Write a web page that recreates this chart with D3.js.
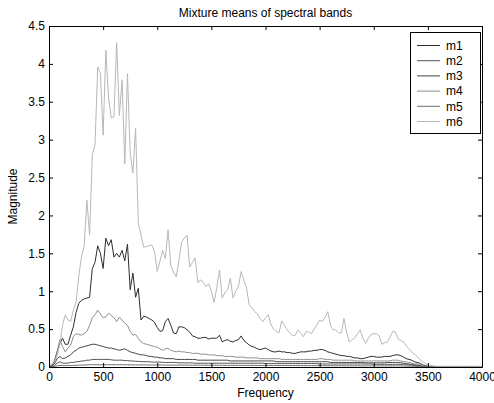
<!DOCTYPE html>
<html><head><meta charset="utf-8">
<script src="https://cdn.jsdelivr.net/npm/d3@7"></script>
<style>body{margin:0;background:#fff} text{font-family:"Liberation Sans",Arial,sans-serif}</style>
</head><body><svg id="c" width="494" height="403"></svg>
<script>
// Frequency grid (Hz), 25 Hz steps from 0 to 4000
const frequency = d3.range(0, 4001, 25);

const m1 = [
0.02,0.02,0.08,0.20,0.31,0.38,0.30,0.30,0.42,0.53,0.72,0.84,0.88,0.90,0.91,0.92,1.30,1.38,1.60,1.50,
1.30,1.70,1.60,1.68,1.45,1.50,1.45,1.54,1.40,1.62,1.02,1.24,0.92,1.04,0.62,0.67,0.66,0.64,0.62,0.59,
0.52,0.47,0.48,0.60,0.64,0.55,0.45,0.44,0.53,0.53,0.52,0.49,0.46,0.41,0.40,0.38,0.38,0.39,0.39,0.37,
0.38,0.38,0.38,0.42,0.33,0.35,0.36,0.34,0.33,0.35,0.36,0.41,0.35,0.32,0.29,0.27,0.26,0.24,0.23,0.24,
0.25,0.23,0.21,0.20,0.20,0.21,0.20,0.20,0.19,0.19,0.18,0.18,0.19,0.20,0.20,0.20,0.21,0.21,0.22,0.22,
0.23,0.23,0.22,0.20,0.19,0.18,0.17,0.16,0.15,0.15,0.14,0.14,0.13,0.12,0.12,0.11,0.11,0.12,0.13,0.14,
0.14,0.13,0.13,0.13,0.14,0.14,0.14,0.15,0.16,0.16,0.15,0.13,0.11,0.10,0.09,0.07,0.06,0.05,0.03,0.02,
0.01,0.005,0.005,0.005,0.005,0.005,0.005,0.005,0.005,0.005,0.005,0.005,0.005,0.005,0.005,0.005,0.005,0.005,0.005,0.005,
0.005];

const m2 = [
0.005,0.005,0.02,0.05,0.07,0.05,0.05,0.05,0.06,0.06,0.07,0.07,0.08,0.08,0.09,0.09,0.10,0.10,0.10,0.10,
0.10,0.10,0.10,0.095,0.09,0.09,0.09,0.09,0.085,0.085,0.08,0.08,0.075,0.075,0.07,0.07,0.07,0.07,0.065,0.065,
0.065,0.065,0.06,0.06,0.06,0.06,0.06,0.06,0.055,0.055,0.055,0.055,0.055,0.055,0.05,0.05,0.05,0.05,0.05,0.05,
0.05,0.05,0.05,0.05,0.05,0.05,0.05,0.05,0.05,0.05,0.05,0.05,0.05,0.05,0.05,0.05,0.05,0.05,0.05,0.05,
0.045,0.045,0.045,0.045,0.045,0.045,0.045,0.045,0.045,0.045,0.045,0.045,0.045,0.045,0.045,0.045,0.045,0.045,0.045,0.045,
0.04,0.04,0.04,0.04,0.04,0.04,0.04,0.04,0.04,0.04,0.04,0.04,0.04,0.04,0.04,0.04,0.04,0.04,0.04,0.04,
0.035,0.035,0.035,0.035,0.035,0.035,0.035,0.035,0.035,0.035,0.035,0.03,0.03,0.025,0.025,0.02,0.015,0.01,0.008,0.005,
0.003,0.003,0.003,0.003,0.003,0.003,0.003,0.003,0.003,0.003,0.003,0.003,0.003,0.003,0.003,0.003,0.003,0.003,0.003,0.003,
0.003];

const m3 = [
0.01,0.01,0.04,0.11,0.14,0.11,0.12,0.14,0.16,0.20,0.22,0.25,0.26,0.27,0.28,0.29,0.30,0.30,0.29,0.28,
0.27,0.26,0.25,0.25,0.24,0.23,0.22,0.23,0.24,0.22,0.20,0.19,0.18,0.17,0.16,0.16,0.15,0.14,0.14,0.13,
0.13,0.12,0.12,0.11,0.11,0.11,0.11,0.10,0.10,0.10,0.10,0.10,0.10,0.10,0.10,0.09,0.09,0.09,0.09,0.09,
0.09,0.09,0.09,0.09,0.09,0.09,0.09,0.08,0.08,0.08,0.08,0.08,0.08,0.08,0.08,0.08,0.08,0.08,0.08,0.08,
0.08,0.08,0.08,0.08,0.07,0.07,0.07,0.07,0.07,0.07,0.07,0.07,0.07,0.07,0.07,0.07,0.07,0.07,0.07,0.07,
0.07,0.07,0.07,0.07,0.06,0.06,0.06,0.06,0.06,0.06,0.06,0.06,0.06,0.06,0.06,0.06,0.06,0.055,0.055,0.055,
0.055,0.055,0.055,0.055,0.055,0.06,0.06,0.06,0.06,0.06,0.055,0.05,0.045,0.04,0.035,0.03,0.025,0.02,0.015,0.01,
0.005,0.005,0.005,0.005,0.005,0.005,0.005,0.005,0.005,0.005,0.005,0.005,0.005,0.005,0.005,0.005,0.005,0.005,0.005,0.005,
0.005];

const m4 = [
0.02,0.02,0.06,0.20,0.36,0.27,0.20,0.25,0.29,0.40,0.44,0.43,0.42,0.44,0.47,0.55,0.65,0.69,0.75,0.70,
0.65,0.66,0.71,0.68,0.65,0.60,0.66,0.62,0.58,0.55,0.47,0.42,0.43,0.38,0.33,0.31,0.30,0.29,0.28,0.27,
0.26,0.24,0.22,0.24,0.25,0.22,0.21,0.20,0.21,0.20,0.20,0.19,0.19,0.18,0.18,0.18,0.17,0.17,0.17,0.16,
0.16,0.16,0.15,0.15,0.15,0.14,0.14,0.14,0.14,0.13,0.13,0.13,0.13,0.12,0.12,0.12,0.12,0.12,0.11,0.11,
0.11,0.11,0.11,0.11,0.11,0.11,0.10,0.10,0.10,0.10,0.10,0.10,0.10,0.10,0.10,0.10,0.10,0.10,0.10,0.10,
0.11,0.11,0.10,0.10,0.10,0.09,0.09,0.09,0.09,0.09,0.09,0.09,0.09,0.08,0.08,0.08,0.08,0.08,0.08,0.08,
0.08,0.08,0.08,0.08,0.08,0.08,0.08,0.09,0.09,0.09,0.08,0.07,0.07,0.06,0.05,0.04,0.04,0.03,0.02,0.01,
0.005,0.005,0.005,0.005,0.005,0.005,0.005,0.005,0.005,0.005,0.005,0.005,0.005,0.005,0.005,0.005,0.005,0.005,0.005,0.005,
0.005];

const m5 = [
0.003,0.003,0.008,0.015,0.02,0.018,0.018,0.018,0.02,0.02,0.022,0.024,0.025,0.026,0.028,0.03,0.03,0.03,0.03,0.03,
0.03,0.03,0.03,0.03,0.03,0.03,0.03,0.03,0.029,0.029,0.029,0.028,0.028,0.028,0.028,0.027,0.027,0.027,0.027,0.027,
0.026,0.026,0.026,0.026,0.026,0.025,0.025,0.025,0.025,0.025,0.025,0.025,0.024,0.024,0.024,0.024,0.024,0.024,0.023,0.023,
0.023,0.023,0.023,0.023,0.022,0.022,0.022,0.022,0.022,0.022,0.022,0.021,0.021,0.021,0.021,0.021,0.021,0.02,0.02,0.02,
0.02,0.02,0.02,0.02,0.02,0.02,0.02,0.02,0.019,0.019,0.019,0.019,0.019,0.019,0.018,0.018,0.018,0.018,0.018,0.018,
0.018,0.018,0.017,0.017,0.017,0.017,0.017,0.017,0.016,0.016,0.016,0.016,0.016,0.016,0.016,0.015,0.015,0.015,0.015,0.015,
0.015,0.015,0.015,0.015,0.015,0.015,0.015,0.015,0.015,0.015,0.014,0.013,0.012,0.011,0.01,0.009,0.008,0.006,0.004,0.003,
0.002,0.002,0.002,0.002,0.002,0.002,0.002,0.002,0.002,0.002,0.002,0.002,0.002,0.002,0.002,0.002,0.002,0.002,0.002,0.002,
0.002];

const m6 = [
0.04,0.04,0.06,0.15,0.30,0.55,0.69,0.62,0.60,0.75,0.86,1.20,1.45,1.60,2.20,1.74,2.80,2.93,3.96,3.87,
3.06,4.18,3.55,3.29,3.30,4.28,3.32,3.79,2.68,3.87,2.82,2.56,3.15,1.90,1.74,1.58,1.59,1.60,1.61,1.52,
1.26,1.40,1.54,1.43,1.81,1.34,1.25,1.19,1.40,1.65,1.70,1.74,1.32,1.38,1.44,1.11,1.15,1.12,1.06,1.10,
1.00,0.85,1.05,1.28,0.91,0.98,1.02,1.17,0.91,1.00,1.06,1.26,1.15,1.04,0.82,0.78,0.73,0.70,0.64,0.60,
0.65,0.69,0.56,0.50,0.47,0.45,0.61,0.55,0.49,0.45,0.41,0.42,0.49,0.45,0.40,0.47,0.46,0.44,0.50,0.56,
0.62,0.60,0.65,0.73,0.55,0.49,0.49,0.45,0.45,0.64,0.45,0.33,0.36,0.38,0.44,0.49,0.38,0.31,0.38,0.43,
0.44,0.44,0.41,0.30,0.32,0.33,0.39,0.47,0.46,0.37,0.35,0.33,0.28,0.24,0.20,0.17,0.14,0.10,0.07,0.05,
0.03,0.02,0.015,0.01,0.01,0.01,0.01,0.01,0.01,0.01,0.01,0.01,0.01,0.01,0.01,0.01,0.01,0.01,0.01,0.01,
0.01];

const seriesNames = ["m1","m2","m3","m4","m5","m6"];
const seriesValues = [m1,m2,m3,m4,m5,m6];
const seriesColors = ["#2e2e2e","#555555","#454545","#8f8f8f","#6e6e6e","#b8b8b8"];

const xTicks = [0,500,1000,1500,2000,2500,3000,3500,4000];
const yTicks = [0,0.5,1,1.5,2,2.5,3,3.5,4,4.5];
const yTickLabels = ["0","0.5","1","1.5","2","2.5","3","3.5","4","4.5"];

const titleText = "Mixture means of spectral bands";
const xLabel = "Frequency";
const yLabel = "Magnitude";

const L = 49, R = 482, T = 26, B = 367;
const svg = d3.select("#c");
svg.append("rect").attr("width",494).attr("height",403).attr("fill","#fff");

const x = d3.scaleLinear().domain([0,4000]).range([L,R]);
const y = d3.scaleLinear().domain([0,4.5]).range([B,T]);

const line = d3.line().x((d,i)=>x(frequency[i])).y(d=>y(d));

const plot = svg.append("g");
seriesValues.forEach((vals,k)=>{
  plot.append("path").datum(vals).attr("d",line)
    .attr("fill","none").attr("stroke",seriesColors[k]).attr("stroke-width",1)
    .attr("stroke-linejoin","round");
});

function styleAxis(g){
  g.selectAll("path.domain").attr("stroke","#000").attr("stroke-width",1);
  g.selectAll(".tick line").attr("stroke","#000");
  g.selectAll(".tick text").attr("fill","#000").attr("font-size",12)
    .attr("font-family",'"Liberation Sans",Arial,sans-serif');
}
const gx = svg.append("g").attr("transform",`translate(0,${B})`)
  .call(d3.axisBottom(x).tickValues(xTicks).tickFormat(d3.format("d")).tickSizeInner(-4).tickSizeOuter(0).tickPadding(5));
styleAxis(gx);
const gxt = svg.append("g").attr("transform",`translate(0,${T})`)
  .call(d3.axisTop(x).tickValues(xTicks).tickFormat("").tickSizeInner(-4).tickSizeOuter(0));
styleAxis(gxt);
const gy = svg.append("g").attr("transform",`translate(${L},0)`)
  .call(d3.axisLeft(y).tickValues(yTicks).tickFormat((d,i)=>yTickLabels[i]).tickSizeInner(-4).tickSizeOuter(0).tickPadding(4));
styleAxis(gy);
const gyr = svg.append("g").attr("transform",`translate(${R},0)`)
  .call(d3.axisRight(y).tickValues(yTicks).tickFormat("").tickSizeInner(-4).tickSizeOuter(0));
styleAxis(gyr);

svg.append("text").attr("x",(L+R)/2).attr("y",17).attr("text-anchor","middle")
  .attr("font-size",12).text(titleText);
svg.append("text").attr("x",(L+R)/2).attr("y",397).attr("text-anchor","middle")
  .attr("font-size",12).text(xLabel);
svg.append("text").attr("transform",`translate(17,${(T+B)/2}) rotate(-90)`).attr("text-anchor","middle")
  .attr("font-size",12).text(yLabel);

// Legend
const lg = svg.append("g");
lg.append("rect").attr("x",410.5).attr("y",32.5).attr("width",70).attr("height",101)
  .attr("fill","#fff").attr("stroke","#000").attr("stroke-width",1);
seriesNames.forEach((n,k)=>{
  const yy = 45.5 + k*15.2;
  lg.append("line").attr("x1",417).attr("x2",440).attr("y1",yy).attr("y2",yy)
    .attr("stroke",seriesColors[k]).attr("stroke-width",1);
  lg.append("text").attr("x",446).attr("y",yy).attr("dy","0.35em").attr("font-size",12).text(n);
});
</script></body></html>
